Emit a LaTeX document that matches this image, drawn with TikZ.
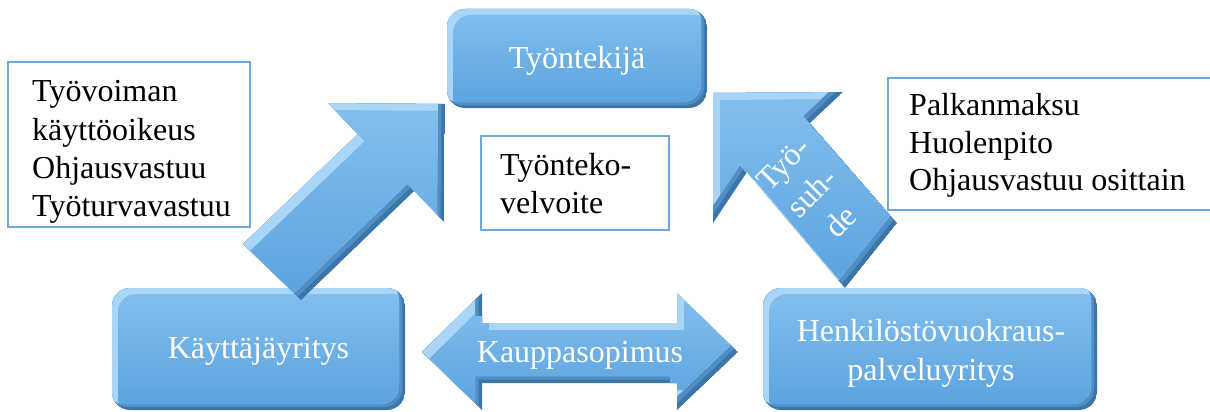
\documentclass[tikz,border=0pt]{standalone}
\usepackage{fontspec}
\setmainfont{Liberation Serif}
\definecolor{noteblue}{HTML}{6FA8DC}
\definecolor{bevdark}{HTML}{3C76A8}
\definecolor{bevmid}{HTML}{4F8FC6}
\definecolor{bevlight}{HTML}{A9D5F6}
\definecolor{facetop}{HTML}{85C0EE}
\definecolor{facebot}{HTML}{5CA4E0}
\newcommand\bodyfont{\fontsize{32}{38.3}\selectfont}
% bevelled shape: #1 = bevel width, #2 = path
\newcommand\bevelfill[2]{%
  \begin{scope}
    \clip #2;
    \fill[bevdark] #2;
    \fill[bevmid,xshift=-#1/2,yshift=#1/2] #2;
    \fill[bevlight,xshift=-#1,yshift=#1] #2;
    \begin{scope}
      \clip[xshift=#1,yshift=-#1] #2;
      \shade[top color=facetop,bottom color=facebot,xshift=-#1,yshift=#1] #2;
    \end{scope}
  \end{scope}}
\tikzset{
  boxtext/.style={text=white,font=\bodyfont,inner sep=0pt},
  notetext/.style={text=black,font=\bodyfont,inner sep=0pt,anchor=base west},
  notebox/.style={draw=noteblue,line width=2.4pt,fill=white},
}
\begin{document}
\begin{tikzpicture}[x=1pt,y=-1pt]
\useasboundingbox (0,0) rectangle (1210,412);

% note boxes
\draw[notebox] (8,62) rectangle (250,227);
\node[notetext] (n1) at (32,101.7) {Työvoiman};
\node[notetext] (n2) at (32,140) {käyttöoikeus};
\node[notetext] (n3) at (32,178.3) {Ohjausvastuu};
\node[notetext] (n4) at (32,216.7) {Työturvavastuu};

\draw[notebox] (888,78) rectangle (1220,210);
\node[notetext] (p1) at (909,115) {Palkanmaksu};
\node[notetext] (p2) at (909,153.3) {Huolenpito};
\node[notetext] (p3) at (909,190) {Ohjausvastuu osittain};

\draw[notebox] (481,136) rectangle (669,230);
\node[notetext] (v1) at (500,175) {Työnteko-};
\node[notetext] (v2) at (500,213) {velvoite};

% rounded party boxes
\bevelfill{6pt}{[rounded corners=18pt] (447,9) rectangle (707,108)}
\node[boxtext,anchor=base] (worker) at (577,68.5) {Työntekijä};

\bevelfill{6pt}{[rounded corners=18pt] (112,288) rectangle (405,410)}
\node[boxtext,anchor=base] (user) at (258.5,358) {Käyttäjäyritys};

\bevelfill{6pt}{[rounded corners=18pt] (763,288) rectangle (1097,410)}
\node[boxtext,anchor=base] (agency1) at (931,341) {Henkilöstövuokraus-};
\node[boxtext,anchor=base] (agency2) at (931,380) {palveluyritys};

% block arrows
\bevelfill{7pt}{(243,244) -- (357.7,134.2) -- (328,103) -- (445,104) -- (444,222) -- (414.3,190.8) -- (301,300) -- cycle}
\bevelfill{7pt}{(713,93) -- (843,92) -- (810,123) -- (897,223) -- (845,288) -- (747,172) -- (713,223) -- cycle}
\node[boxtext,align=center,rotate=45,font=\fontsize{32}{41}\selectfont] (tyosuhde) at (812,193) {Työ-\\suh-\\de};

\bevelfill{7pt}{(422,352) -- (482,293) -- (482,323) -- (677,323) -- (677,293) -- (738,352) -- (677,410) -- (677,383) -- (482,383) -- (482,410) -- cycle}
\node[boxtext,anchor=base] (contract) at (580,362) {Kauppasopimus};
\end{tikzpicture}
\end{document}
